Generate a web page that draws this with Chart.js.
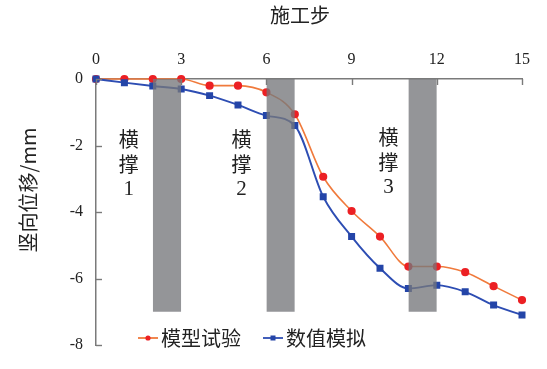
<!DOCTYPE html>
<html><head><meta charset="utf-8">
<script src="https://cdn.jsdelivr.net/npm/chart.js@4/dist/chart.umd.min.js"></script>
<style>html,body{margin:0;padding:0;background:#fff}#wrap{width:547px;height:369px}</style>
</head><body><div id="wrap"><canvas id="c" width="547" height="369"></canvas></div>
<script>
const steps = [0,1,2,3,4,5,6,7,8,9,10,11,12,13,14,15];
const modelTest = [0,0,0,0,-0.2,-0.2,-0.4,-1.06,-2.94,-3.97,-4.74,-5.64,-5.64,-5.81,-6.23,-6.65];
const numericalSim = [0,-0.11,-0.21,-0.3,-0.5,-0.78,-1.1,-1.4,-3.54,-4.74,-5.69,-6.3,-6.2,-6.4,-6.8,-7.1];
const seriesNames = ['模型试验','数值模拟'];
const braceStart = [2,6,11];
const braceEnd = [3,7,12];
const braceDepth = -7;
const braceLabels = ['1','2','3'];
const xTicks = [0,3,6,9,12,15];
const yTicks = [0,-2,-4,-6,-8];
const xTitle = '施工步';
const yTitle = '竖向位移/mm';

const SERIF = '"Liberation Serif","Times New Roman",serif';
const CJK = '"Noto Sans CJK SC","Noto Sans CJK JP",sans-serif';
const RED_LINE = '#f07a3c', RED_PT = '#ec2024';
const BLUE_LINE = '#2d4db3', BLUE_PT = '#2445a8';
const BAR = 'rgba(118,119,123,0.78)';

const datasets = [];
braceStart.forEach((s,i)=>{
  datasets.push({
    label:'brace'+i, data:[{x:s,y:braceDepth},{x:braceEnd[i],y:braceDepth}],
    fill:'origin', backgroundColor:BAR, borderColor:BAR, borderWidth:0,
    pointRadius:0, order:0, tension:0
  });
});
datasets.push({
  label:seriesNames[0], data:steps.map((s,i)=>({x:s,y:modelTest[i]})),
  borderColor:RED_LINE, backgroundColor:RED_PT, pointBackgroundColor:RED_PT, pointBorderColor:RED_PT,
  pointStyle:'circle', pointRadius:3.3, borderWidth:1.6, cubicInterpolationMode:'monotone', fill:false, order:2, clip:false
});
datasets.push({
  label:seriesNames[1], data:steps.map((s,i)=>({x:s,y:numericalSim[i]})),
  borderColor:BLUE_LINE, backgroundColor:BLUE_PT, pointBackgroundColor:BLUE_PT, pointBorderColor:BLUE_PT,
  pointStyle:'rect', pointRadius:3.6, borderWidth:1.9, cubicInterpolationMode:'monotone', fill:false, order:1, clip:false
});

const decor = {
  id:'decor',
  afterDraw(chart){
    const ctx = chart.ctx, xs = chart.scales.x, ys = chart.scales.y, ca = chart.chartArea;
    ctx.save();
    ctx.strokeStyle = '#7a7a7a'; ctx.lineWidth = 1.4;
    xTicks.forEach(v=>{ const p = Math.round(xs.getPixelForValue(v))+0.5; ctx.beginPath(); ctx.moveTo(p,ca.top); ctx.lineTo(p,ca.top+6); ctx.stroke(); });
    yTicks.forEach(v=>{ const p = Math.round(ys.getPixelForValue(v))+0.5; ctx.beginPath(); ctx.moveTo(ca.left,p); ctx.lineTo(ca.left+6,p); ctx.stroke(); });
    ctx.fillStyle = '#222';
    ctx.font = '20px '+CJK; ctx.textAlign='center'; ctx.textBaseline='middle';
    ctx.fillText(xTitle, 300, 15);
    ctx.save(); ctx.translate(28,190); ctx.rotate(-Math.PI/2);
    ctx.font = '20px '+CJK; ctx.fillText(yTitle,0,0); ctx.restore();
    const offs = [-24,-25,-20];
    const ys0 = [139,139,137];
    braceStart.forEach((s,i)=>{
      const cx = xs.getPixelForValue(s)+offs[i];
      ctx.font = '20px '+CJK;
      ctx.fillText('横', cx, ys0[i]);
      ctx.fillText('撑', cx, ys0[i]+25);
      ctx.font = '21px '+SERIF;
      ctx.fillText(braceLabels[i], cx, ys0[i]+50);
    });
    const items = [
      {x:138, line:RED_LINE, pt:RED_PT, shape:'circle', name:seriesNames[0]},
      {x:263, line:BLUE_LINE, pt:BLUE_PT, shape:'rect', name:seriesNames[1]}
    ];
    const ly = 338;
    items.forEach(it=>{
      ctx.strokeStyle = it.line; ctx.lineWidth = 1.8;
      ctx.beginPath(); ctx.moveTo(it.x, ly); ctx.lineTo(it.x+20, ly); ctx.stroke();
      ctx.fillStyle = it.pt;
      if (it.shape==='circle'){ ctx.beginPath(); ctx.arc(it.x+10, ly, 2.6, 0, Math.PI*2); ctx.fill(); }
      else { ctx.fillRect(it.x+7.5, ly-2.5, 5, 5); }
      ctx.fillStyle = '#222'; ctx.font = '20px '+CJK; ctx.textAlign='left';
      ctx.fillText(it.name, it.x+23, ly);
    });
    ctx.restore();
  }
};

new Chart(document.getElementById('c'), {
  type:'line',
  data:{datasets},
  options:{
    responsive:false, animation:false, devicePixelRatio:1,
    layout:{padding:{left:0,top:0,right:25,bottom:24}},
    plugins:{legend:{display:false}, tooltip:{enabled:false}},
    elements:{line:{borderJoinStyle:'round'}},
    scales:{
      x:{type:'linear', position:'top', min:0, max:15,
        afterBuildTicks(s){ s.ticks = xTicks.map(v=>({value:v})); },
        afterFit(s){ s.height = 79; },
        grid:{drawOnChartArea:false, drawTicks:false, tickLength:0},
        border:{display:true, color:'#7a7a7a', width:1.5},
        ticks:{padding:10, color:'#222', font:{family:SERIF, size:16}, maxRotation:0}
      },
      y:{type:'linear', position:'left', min:-8, max:0,
        afterBuildTicks(s){ s.ticks = yTicks.map(v=>({value:v})); },
        afterFit(s){ s.width = 96; },
        grid:{drawOnChartArea:false, drawTicks:false, tickLength:0},
        border:{display:true, color:'#7a7a7a', width:1.5},
        ticks:{padding:13, color:'#222', font:{family:SERIF, size:16}}
      }
    }
  },
  plugins:[decor]
});
</script>
</body></html>
